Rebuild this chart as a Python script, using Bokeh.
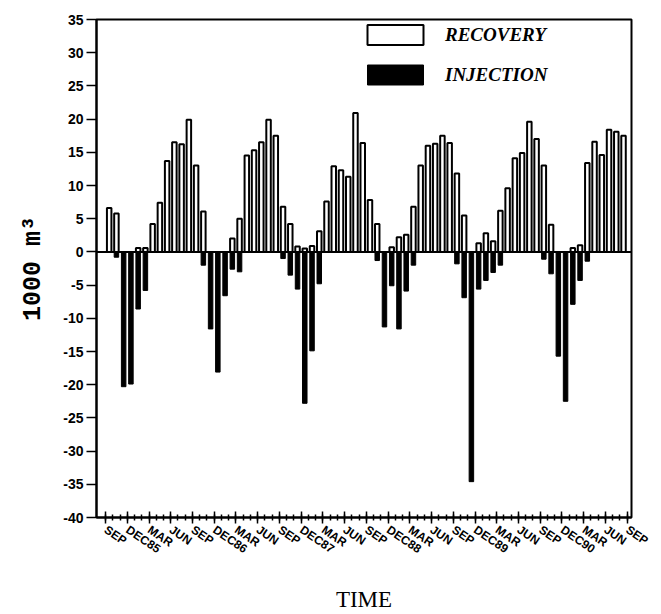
import numpy as np
from bokeh.plotting import figure
from bokeh.models import FixedTicker, Range1d, Legend, LegendItem, Span, ColumnDataSource
from bokeh.embed import file_html
from bokeh.resources import INLINE

# ---- data (monthly, starting SEP) ----
recovery = [6.6, 5.8, 0, 0, 0.6, 0.6, 4.2, 7.4, 13.7, 16.5, 16.2, 19.9,
            13.0, 6.1, 0, 0, 0, 2.0, 5.0, 14.5, 15.3, 16.5, 19.9, 17.5,
            6.8, 4.2, 0.8, 0.5, 0.9, 3.1, 7.6, 12.9, 12.3, 11.3, 20.9, 16.4,
            7.8, 4.2, 0, 0.7, 2.2, 2.6, 6.8, 13.0, 16.0, 16.3, 17.5, 16.4,
            11.8, 5.5, 0, 1.3, 2.8, 1.6, 6.2, 9.6, 14.1, 14.9, 19.6, 17.0,
            13.0, 4.1, 0, 0, 0.6, 1.0, 13.4, 16.6, 14.6, 18.4, 18.1, 17.5]

injection = [0, -0.8, -20.3, -19.9, -8.6, -5.8, 0, 0, 0, 0, 0, 0,
             0, -2.0, -11.6, -18.1, -6.6, -2.6, -3.0, 0, 0, 0, 0, 0,
             -1.0, -3.5, -5.6, -22.8, -14.9, -4.8, 0, 0, 0, 0, 0, 0,
             0, -1.3, -11.3, -5.1, -11.6, -5.9, -2.0, 0, 0, 0, 0, 0,
             -1.8, -6.9, -34.6, -5.6, -4.3, -3.1, -2.0, 0, 0, 0, 0, 0,
             -1.1, -3.3, -15.7, -22.5, -7.9, -4.3, -1.4, 0, 0, 0, 0, 0]

x_tick_labels = ["SEP", "DEC85", "MAR", "JUN",
                 "SEP", "DEC86", "MAR", "JUN",
                 "SEP", "DEC87", "MAR", "JUN",
                 "SEP", "DEC88", "MAR", "JUN",
                 "SEP", "DEC89", "MAR", "JUN",
                 "SEP", "DEC90", "MAR", "JUN",
                 "SEP"]
y_ticks = [-40, -35, -30, -25, -20, -15, -10, -5, 0, 5, 10, 15, 20, 25, 30, 35]

n = len(recovery)
month_pos = np.arange(n) + 0.5
src = ColumnDataSource(dict(x=month_pos, rec=recovery, inj=injection))

p = figure(width=661, height=614, output_backend="svg", toolbar_location=None,
           x_range=Range1d(-1.25, 72.6), y_range=Range1d(-40, 35),
           min_border_left=96, min_border_right=30, min_border_top=19,
           min_border_bottom=93)
p.xgrid.visible = False
p.ygrid.visible = False
p.outline_line_color = "black"
p.outline_line_width = 2
p.background_fill_color = "white"

r_inj = p.vbar(x="x", top="inj", bottom=0, width=0.62, source=src,
               fill_color="black", line_color="black", line_width=1)
r_rec = p.vbar(x="x", top="rec", bottom=0, width=0.62, source=src,
               fill_color="white", line_color="black", line_width=2)
p.add_layout(Span(location=0, dimension="width", line_color="black", line_width=2))

# x axis
major = list(range(0, 3 * len(x_tick_labels), 3))
p.xaxis.ticker = FixedTicker(ticks=major, minor_ticks=list(range(0, major[-1] + 1)))
p.xaxis.major_label_overrides = {t: lab for t, lab in zip(major, x_tick_labels)}
p.xaxis.major_label_orientation = -0.6
p.xaxis.major_label_text_font = "Liberation Sans"
p.xaxis.major_label_text_font_style = "bold"
p.xaxis.major_label_text_font_size = "12px"
p.xaxis.major_label_text_color = "black"
p.xaxis.axis_line_width = 2
p.xaxis.axis_line_color = "black"
p.xaxis.major_tick_line_color = "black"
p.xaxis.minor_tick_line_color = "black"
p.xaxis.major_tick_in = 6
p.xaxis.major_tick_out = 6
p.xaxis.minor_tick_in = 3
p.xaxis.minor_tick_out = 3
p.xaxis.major_tick_line_width = 1.5
p.xaxis.minor_tick_line_width = 1.5
p.xaxis.axis_label = "TIME"
p.xaxis.axis_label_text_font = "Liberation Serif"
p.xaxis.axis_label_text_font_style = "normal"
p.xaxis.axis_label_text_font_size = "23px"
p.xaxis.axis_label_text_color = "black"
p.xaxis.axis_label_standoff = 22

# y axis
p.yaxis.ticker = FixedTicker(ticks=y_ticks, minor_ticks=[])
p.yaxis.major_label_overrides = {v: str(v) for v in y_ticks}
p.yaxis.major_label_text_font = "Liberation Sans"
p.yaxis.major_label_text_font_style = "bold"
p.yaxis.major_label_text_font_size = "14px"
p.yaxis.major_label_text_color = "black"
p.yaxis.major_label_standoff = 3
p.yaxis.axis_line_width = 2
p.yaxis.axis_line_color = "black"
p.yaxis.major_tick_line_color = "black"
p.yaxis.major_tick_in = 0
p.yaxis.major_tick_out = 10
p.yaxis.major_tick_line_width = 1.5
p.yaxis.axis_label = "1000 m³"
p.yaxis.axis_label_text_font = "Liberation Mono"
p.yaxis.axis_label_text_font_style = "bold"
p.yaxis.axis_label_text_font_size = "25px"
p.yaxis.axis_label_text_color = "black"
p.yaxis.axis_label_standoff = 12

legend = Legend(items=[LegendItem(label="RECOVERY", renderers=[r_rec]),
                       LegendItem(label="INJECTION", renderers=[r_inj])],
                location=(264, 430), glyph_width=70, glyph_height=25,
                label_height=25, spacing=15, padding=0, margin=0,
                label_standoff=15, border_line_color=None,
                background_fill_alpha=0)
legend.label_text_font = "Liberation Serif"
legend.label_text_font_style = "bold italic"
legend.label_text_font_size = "19px"
legend.label_text_color = "black"
p.add_layout(legend)

open("out.html", "w").write(file_html(p, INLINE))
